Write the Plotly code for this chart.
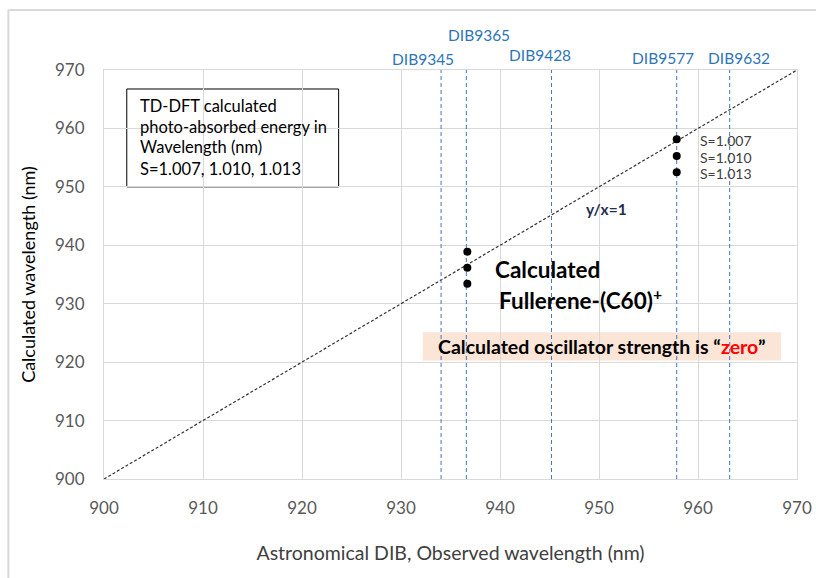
import plotly.graph_objects as go

# ---------------- data ----------------
dib_names = ["DIB9345", "DIB9365", "DIB9428", "DIB9577", "DIB9632"]
dib_observed_nm = [934.05, 936.6, 945.2, 957.85, 963.2]

calc_x = [936.7, 936.7, 936.7, 957.85, 957.85, 957.85]
calc_y = [938.9, 936.15, 933.4, 958.15, 955.3, 952.5]

s_labels = ["S=1.007", "S=1.010", "S=1.013"]
box_lines = ["TD-DFT calculated", "photo-absorbed energy in", "Wavelength (nm)", "S=1.007, 1.010, 1.013"]

diag = [900, 970]
x_ticks = [900, 910, 920, 930, 940, 950, 960, 970]
y_ticks = [900, 910, 920, 930, 940, 950, 960, 970]

FONT = "Lato, 'Open Sans', sans-serif"

fig = go.Figure()

# y/x = 1 diagonal
fig.add_trace(go.Scatter(x=diag, y=diag, mode="lines",
                         line=dict(color="#333333", width=1.2, dash="3px,2px"),
                         hoverinfo="skip", showlegend=False))

# DIB vertical lines
for xv in dib_observed_nm:
    fig.add_trace(go.Scatter(x=[xv, xv], y=[900, 970], mode="lines",
                             line=dict(color="#4472C4", width=1, dash="4px,3px"),
                             hoverinfo="skip", showlegend=False))

# calculated points
fig.add_trace(go.Scatter(x=calc_x, y=calc_y, mode="markers",
                         marker=dict(color="black", size=8),
                         showlegend=False))

annotations = []
# DIB labels above plot
label_shift = [-18, 13, -11, -14, 9]
label_y = [1.027, 1.086, 1.037, 1.029, 1.029]
for name, xv, sh, yy in zip(dib_names, dib_observed_nm, label_shift, label_y):
    annotations.append(dict(x=xv, y=yy, xref="x", yref="paper", text=name, showarrow=False,
                            xshift=sh, xanchor="center", yanchor="middle",
                            font=dict(family=FONT, size=15.5, color="#2E75B6")))

# S labels at right cluster
for lab, yv in zip(s_labels, calc_y[3:]):
    annotations.append(dict(x=959.95, y=yv - 0.2, xref="x", yref="y", text=lab, showarrow=False,
                            xanchor="left", yanchor="middle",
                            font=dict(family=FONT, size=14, color="#404040")))

# text box lines
box_line_y = [963.84, 960.25, 956.8, 953.1]
for t, yv in zip(box_lines, box_line_y):
    annotations.append(dict(x=903.4, y=yv, xref="x", yref="y", text=t, showarrow=False,
                            xanchor="left", yanchor="middle",
                            font=dict(family=FONT, size=16.5, color="#000000")))

# Calculated Fullerene label
annotations.append(dict(x=939.25, y=935.94, xref="x", yref="y", text="<b>Calculated</b>",
                        showarrow=False, xanchor="left", yanchor="middle",
                        font=dict(family=FONT, size=22.5, color="#000000")))
annotations.append(dict(x=939.7, y=930.8, xref="x", yref="y", text="<b>Fullerene-(C60)<sup>+</sup></b>",
                        showarrow=False, xanchor="left", yanchor="middle",
                        font=dict(family=FONT, size=22.5, color="#000000")))

# y/x=1 label
annotations.append(dict(x=950.8, y=946.2, xref="x", yref="y", text="<b>y/x=1</b>",
                        showarrow=False, xanchor="center", yanchor="middle",
                        font=dict(family=FONT, size=15.5, color="#1F2D4D")))

# oscillator strength note
annotations.append(dict(x=950.3, y=922.7, xref="x", yref="y",
                        text="<b>Calculated oscillator strength is \u201c<span style='color:#FF0000'>zero</span>\u201d</b>",
                        showarrow=False, xanchor="center", yanchor="middle",
                        font=dict(family=FONT, size=19.5, color="#000000")))

shapes = [
    # text box
    dict(type="rect", xref="x", yref="y", x0=902.3, x1=923.7, y0=950.0, y1=966.75,
         line=dict(color="#000000", width=1), fillcolor="white", layer="below"),
    # orange note box
    dict(type="rect", xref="x", yref="y", x0=932.2, x1=968.4, y0=920.26, y1=925.1,
         line=dict(width=0), fillcolor="#FBE5D6", layer="below"),
    # outer chart frame (top and left edges)
    dict(type="line", xref="paper", yref="paper", x0=-0.138, x1=1.1, y0=1.1467, y1=1.1467,
         line=dict(color="#D9D9D9", width=2)),
    dict(type="line", xref="paper", yref="paper", x0=-0.138, x1=-0.138, y0=-0.3, y1=1.1467,
         line=dict(color="#D9D9D9", width=2)),
]

fig.update_layout(
    width=816, height=578,
    margin=dict(l=104, r=19, t=70, b=99),
    paper_bgcolor="white", plot_bgcolor="white",
    font=dict(family=FONT, color="#595959"),
    annotations=annotations, shapes=shapes,
    showlegend=False,
)
fig.update_xaxes(range=[900, 970], tickvals=x_ticks, showgrid=True, gridcolor="#D9D9D9",
                 showline=True, linecolor="#D9D9D9", mirror=True, zeroline=False,
                 ticks="", ticklabelstandoff=14, automargin=False,
                 tickfont=dict(family=FONT, size=17, color="#595959"),
                 title=dict(text="Astronomical DIB, Observed wavelength (nm)", standoff=28,
                            font=dict(family=FONT, size=19.5, color="#404040")))
fig.update_yaxes(range=[900, 970], tickvals=y_ticks, showgrid=True, gridcolor="#D9D9D9",
                 showline=True, linecolor="#D9D9D9", mirror=True, zeroline=False,
                 ticks="", ticklabelstandoff=15, automargin=False,
                 tickfont=dict(family=FONT, size=17, color="#595959"),
                 title=dict(text="Calculated wavelength (nm)", standoff=14,
                            font=dict(family=FONT, size=18, color="#000000")))

fig.write_html("out.html",
               config={"displayModeBar": False},
               post_script="document.body.style.margin='0';document.body.style.overflow='hidden';")
